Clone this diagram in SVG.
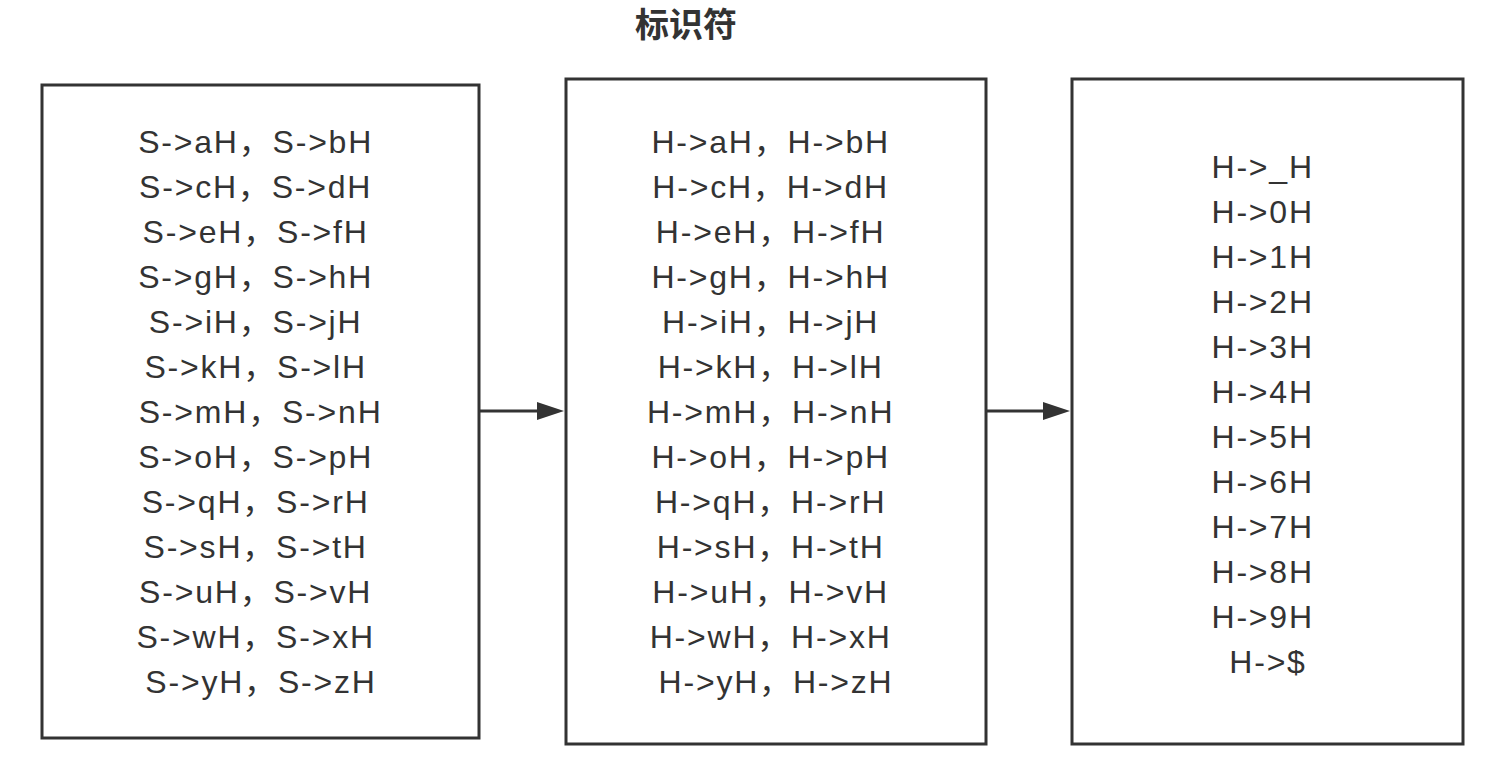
<svg xmlns="http://www.w3.org/2000/svg" width="1507" height="766" viewBox="0 0 1507 766">
<defs>
<style>
.box{fill:#fff;stroke:#333;stroke-width:3}
.t{font-family:"Liberation Sans","Noto Sans CJK SC",sans-serif;font-size:32px;fill:#333;text-anchor:middle;letter-spacing:1.8px}
.title{font-family:"Noto Sans CJK SC",sans-serif;font-size:34px;font-weight:bold;fill:#333;text-anchor:middle}
.edge{stroke:#333;stroke-width:3;fill:none}
</style>
</defs>
<rect width="1507" height="766" fill="#fff"/>
<text class="title" x="686" y="37">标识符</text>
<g id="connectors">
<path class="edge" d="M479,411 L545,411"/>
<path d="M537,402 L564,411 L537,420 Z" fill="#333"/>
<path class="edge" d="M986,411 L1051,411"/>
<path d="M1043,402 L1070,411 L1043,420 Z" fill="#333"/>
</g>
<g id="node-s">
<rect class="box" x="42" y="85" width="437" height="653"/>
<text class="t">
<tspan x="261" y="153">S-&gt;aH，S-&gt;bH</tspan>
<tspan x="261" y="198">S-&gt;cH，S-&gt;dH</tspan>
<tspan x="261" y="243">S-&gt;eH，S-&gt;fH</tspan>
<tspan x="261" y="288">S-&gt;gH，S-&gt;hH</tspan>
<tspan x="261" y="333">S-&gt;iH，S-&gt;jH</tspan>
<tspan x="261" y="378">S-&gt;kH，S-&gt;lH</tspan>
<tspan x="266" y="423">S-&gt;mH，S-&gt;nH</tspan>
<tspan x="261" y="468">S-&gt;oH，S-&gt;pH</tspan>
<tspan x="261" y="513">S-&gt;qH，S-&gt;rH</tspan>
<tspan x="261" y="558">S-&gt;sH，S-&gt;tH</tspan>
<tspan x="261" y="603">S-&gt;uH，S-&gt;vH</tspan>
<tspan x="261" y="648">S-&gt;wH，S-&gt;xH</tspan>
<tspan x="261" y="693">S-&gt;yH，S-&gt;zH</tspan>
</text>
</g>
<g id="node-h1">
<rect class="box" x="566" y="79" width="420" height="665"/>
<text class="t">
<tspan x="776" y="153">H-&gt;aH，H-&gt;bH</tspan>
<tspan x="776" y="198">H-&gt;cH，H-&gt;dH</tspan>
<tspan x="776" y="243">H-&gt;eH，H-&gt;fH</tspan>
<tspan x="776" y="288">H-&gt;gH，H-&gt;hH</tspan>
<tspan x="776" y="333">H-&gt;iH，H-&gt;jH</tspan>
<tspan x="776" y="378">H-&gt;kH，H-&gt;lH</tspan>
<tspan x="776" y="423">H-&gt;mH，H-&gt;nH</tspan>
<tspan x="776" y="468">H-&gt;oH，H-&gt;pH</tspan>
<tspan x="776" y="513">H-&gt;qH，H-&gt;rH</tspan>
<tspan x="776" y="558">H-&gt;sH，H-&gt;tH</tspan>
<tspan x="776" y="603">H-&gt;uH，H-&gt;vH</tspan>
<tspan x="776" y="648">H-&gt;wH，H-&gt;xH</tspan>
<tspan x="776" y="693">H-&gt;yH，H-&gt;zH</tspan>
</text>
</g>
<g id="node-h2">
<rect class="box" x="1072" y="79" width="391" height="665"/>
<text class="t">
<tspan x="1268" y="178">H-&gt;_H</tspan>
<tspan x="1268" y="223">H-&gt;0H</tspan>
<tspan x="1268" y="268">H-&gt;1H</tspan>
<tspan x="1268" y="313">H-&gt;2H</tspan>
<tspan x="1268" y="358">H-&gt;3H</tspan>
<tspan x="1268" y="403">H-&gt;4H</tspan>
<tspan x="1268" y="448">H-&gt;5H</tspan>
<tspan x="1268" y="493">H-&gt;6H</tspan>
<tspan x="1268" y="538">H-&gt;7H</tspan>
<tspan x="1268" y="583">H-&gt;8H</tspan>
<tspan x="1268" y="628">H-&gt;9H</tspan>
<tspan x="1268" y="673">H-&gt;$</tspan>
</text>
</g>
</svg>
